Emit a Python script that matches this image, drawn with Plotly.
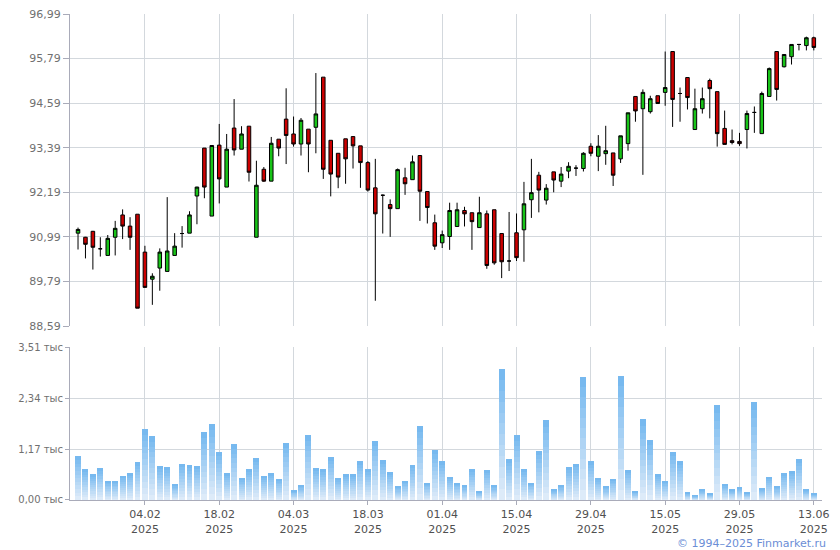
import plotly.graph_objects as go

# ---- data ----
idx = list(range(100))
opens = [91.09, 90.98, 91.14, 90.67, 90.49, 90.98, 91.58, 91.28, 91.60, 90.58,
         89.85, 90.15, 90.06, 90.49, 91.08, 91.09, 92.09, 93.38, 91.55, 93.46,
         92.33, 93.92, 93.35, 93.97, 90.98, 92.81, 92.49, 93.62, 94.16, 93.76,
         93.49, 93.89, 93.94, 95.29, 93.59, 93.24, 93.63, 93.69, 93.44, 92.99,
         92.31, 92.11, 91.86, 91.75, 92.58, 92.53, 93.18, 92.21, 91.37, 90.83,
         91.00, 91.27, 91.70, 91.64, 91.24, 91.61, 91.72, 91.08, 90.34, 91.10,
         91.18, 91.99, 92.65, 91.98, 92.74, 92.49, 92.76, 92.84, 92.83, 93.43,
         93.16, 93.23, 93.25, 93.09, 93.50, 94.77, 94.44, 94.36, 94.79, 94.88,
         95.98, 94.85, 95.28, 93.88, 94.44, 95.20, 94.90, 93.91, 93.58, 93.56,
         93.88, 94.34, 93.77, 94.77, 95.98, 95.57, 95.84, 96.17, 96.14, 96.35]
highs = [91.24, 90.99, 91.15, 90.98, 91.04, 91.42, 91.73, 91.52, 91.60, 90.75,
         90.01, 90.68, 92.06, 91.09, 91.28, 91.68, 92.34, 93.38, 93.45, 94.03,
         93.76, 94.70, 93.97, 93.97, 93.04, 92.87, 93.68, 93.62, 94.99, 94.23,
         94.19, 93.89, 95.40, 95.29, 93.59, 93.24, 93.63, 93.69, 93.44, 93.03,
         93.09, 92.13, 92.00, 92.83, 92.85, 93.18, 93.18, 92.21, 91.59, 91.16,
         91.91, 91.91, 91.80, 91.64, 92.07, 91.70, 91.72, 91.08, 91.66, 91.62,
         92.47, 93.09, 92.74, 92.41, 92.74, 92.87, 93.00, 92.92, 93.27, 93.51,
         93.73, 93.98, 93.25, 93.71, 94.33, 94.77, 94.96, 94.79, 94.79, 95.98,
         95.98, 95.01, 95.28, 94.98, 95.01, 95.25, 94.90, 94.39, 93.88, 93.79,
         94.39, 94.50, 94.90, 95.55, 95.98, 95.90, 96.17, 96.17, 96.38, 96.38]
lows = [90.65, 90.41, 90.11, 90.46, 90.49, 90.49, 90.93, 90.64, 89.07, 89.63,
        89.16, 89.54, 90.06, 90.49, 90.70, 91.09, 91.33, 92.03, 91.55, 91.89,
        92.33, 93.18, 93.35, 92.48, 90.98, 92.47, 92.49, 93.16, 92.95, 93.42,
        93.18, 92.73, 93.24, 92.55, 92.08, 92.30, 92.42, 92.83, 92.31, 92.21,
        89.27, 91.08, 90.99, 91.75, 92.12, 92.53, 91.42, 91.35, 90.64, 90.69,
        90.64, 91.27, 91.27, 90.64, 91.24, 90.13, 90.24, 89.88, 90.07, 90.34,
        90.32, 91.50, 91.65, 91.86, 92.19, 92.33, 92.57, 92.63, 92.75, 93.16,
        92.76, 92.93, 92.36, 92.98, 93.31, 94.09, 92.66, 94.31, 94.58, 94.52,
        93.95, 94.09, 94.42, 93.88, 94.31, 94.18, 93.42, 93.48, 93.48, 93.44,
        93.37, 93.79, 93.77, 94.77, 94.66, 95.55, 95.63, 96.01, 96.01, 96.01]
closes = [91.19, 90.79, 90.71, 90.67, 90.95, 91.22, 91.28, 90.98, 89.07, 89.63,
          89.93, 90.58, 90.61, 90.74, 91.08, 91.58, 92.33, 92.33, 93.45, 92.55,
          93.35, 93.33, 93.76, 92.73, 92.38, 92.49, 93.51, 93.38, 93.72, 93.49,
          94.13, 93.49, 94.30, 92.81, 92.68, 92.60, 93.09, 93.44, 92.99, 92.25,
          91.61, 92.11, 91.75, 92.80, 92.42, 93.01, 92.22, 91.78, 90.74, 91.05,
          91.70, 91.72, 91.61, 91.40, 91.64, 90.22, 90.29, 90.32, 90.34, 90.43,
          91.88, 92.18, 92.25, 92.30, 92.52, 92.68, 92.89, 92.84, 93.24, 93.24,
          93.43, 93.31, 92.65, 93.71, 94.33, 94.38, 94.88, 94.71, 94.58, 95.01,
          94.69, 94.85, 94.74, 94.44, 94.71, 94.98, 93.77, 93.48, 93.53, 93.50,
          94.31, 94.34, 94.85, 95.52, 94.96, 95.90, 96.17, 96.17, 96.35, 96.09]
volumes = [1.00, 0.70, 0.585, 0.724, 0.447, 0.447, 0.562, 0.608, 0.862, 1.625,
           1.463, 0.770, 0.747, 0.354, 0.816, 0.793, 0.770, 1.555, 1.740, 1.093,
           0.608, 1.278, 0.516, 0.700, 0.955, 0.562, 0.608, 0.493, 1.301, 0.216,
           0.331, 1.486, 0.724, 0.700, 0.978, 0.516, 0.585, 0.585, 0.886, 0.700,
           1.348, 0.909, 0.631, 0.308, 0.447, 0.793, 1.694, 0.400, 1.140, 0.886,
           0.539, 0.400, 0.331, 0.700, 0.193, 0.678, 0.331, 3.010, 0.932, 1.486,
           0.700, 0.400, 1.117, 1.833, 0.239, 0.331, 0.747, 0.816, 2.826, 0.886,
           0.516, 0.308, 0.493, 2.849, 0.678, 0.193, 1.856, 1.371, 0.585, 0.447,
           1.093, 0.886, 0.169, 0.100, 0.239, 0.146, 2.179, 0.354, 0.239, 0.285,
           0.169, 2.248, 0.262, 0.539, 0.308, 0.608, 0.655, 0.932, 0.239, 0.146]
tick_pos = [9, 19, 29, 39, 49, 59, 69, 79, 89, 99]
tick_dates = ["04.02", "18.02", "04.03", "18.03", "01.04", "15.04", "29.04", "15.05", "29.05", "13.06"]
price_ticks = [88.59, 89.79, 90.99, 92.19, 93.39, 94.59, 95.79, 96.99]
vol_ticks = [0.0, 1.17, 2.34, 3.51]

# ---- styles ----
GREEN = "#18c418"
RED = "#cc0000"
GRID = "#d3d8dd"
AXIS = "#a9abb9"
TXT = "#707070"
FONT = "DejaVu Sans"

fig = go.Figure()

fig.add_trace(go.Candlestick(
    x=idx, open=opens, high=highs, low=lows, close=closes,
    increasing=dict(fillcolor=GREEN, line=dict(color="black", width=1)),
    decreasing=dict(fillcolor=RED, line=dict(color="black", width=1)),
    whiskerwidth=0, xaxis="x", yaxis="y", showlegend=False, hoverinfo="skip"))

# volume bars with a vertical gradient, built as stacked slices of each bar
N = 12
top_c = (0x72, 0xb7, 0xef)
bot_c = (0xe2, 0xed, 0xf9)
for k in range(N):
    t = (k + 0.5) / N
    col = tuple(int(round(bot_c[j] + (top_c[j] - bot_c[j]) * t)) for j in range(3))
    fig.add_trace(go.Bar(
        x=idx, y=[v / N for v in volumes],
        marker=dict(color="rgb(%d,%d,%d)" % col, line=dict(width=0)),
        xaxis="x2", yaxis="y2", showlegend=False, hoverinfo="skip"))

xr = [-1.08, 100.1]
fig.update_layout(
    template="none",
    width=832, height=542,
    margin=dict(l=62, r=18, t=6, b=50),
    paper_bgcolor="white", plot_bgcolor="white",
    barmode="stack", bargap=0.2, boxgap=0.32,
    font=dict(family=FONT, size=11, color=TXT),
    xaxis=dict(domain=[0, 1], anchor="y", range=xr, tickvals=tick_pos,
               showticklabels=False, showgrid=True, gridcolor=GRID, gridwidth=1,
               zeroline=False, rangeslider=dict(visible=False), automargin=False,
               showline=False, ticks="", fixedrange=True),
    yaxis=dict(domain=[0.358, 1.0], anchor="x", range=[88.59, 96.9901],
               tickvals=price_ticks, automargin=False, ticklabeloverflow="allow",
               ticktext=[("%.2f" % v).replace(".", ",") for v in price_ticks],
               showgrid=True, gridcolor=GRID, gridwidth=1, zeroline=False,
               showline=True, linecolor=AXIS, linewidth=1,
               ticks="outside", ticklen=6, tickcolor=AXIS,
               tickfont=dict(family=FONT, size=11, color=TXT)),
    xaxis2=dict(domain=[0, 1], anchor="y2", range=xr, tickvals=tick_pos,
                ticktext=["%s<br>2025" % d for d in tick_dates], automargin=False,
                showgrid=True, gridcolor=GRID, gridwidth=1, zeroline=False,
                showline=True, linecolor=AXIS, linewidth=1,
                ticks="outside", ticklen=4, tickcolor=AXIS,
                tickfont=dict(family=FONT, size=11, color="#505050")),
    yaxis2=dict(domain=[0, 0.3148], anchor="x2", range=[0, 3.51],
                tickvals=vol_ticks, automargin=False,
                ticktext=[("%.2f" % v).replace(".", ",") + " тыс" for v in vol_ticks],
                showgrid=True, gridcolor=GRID, gridwidth=1, zeroline=False,
                showline=True, linecolor=AXIS, linewidth=1,
                ticks="outside", ticklen=4, tickcolor=AXIS,
                tickfont=dict(family=FONT, size=10, color=TXT)),
    annotations=[dict(text="© 1994–2025 Finmarket.ru", xref="paper", yref="paper",
                      x=1.008, y=-0.072, xanchor="right", yanchor="top",
                      showarrow=False,
                      font=dict(family=FONT, size=11, color="#6b8ed6"))],
)

fig.write_html("out.html")
